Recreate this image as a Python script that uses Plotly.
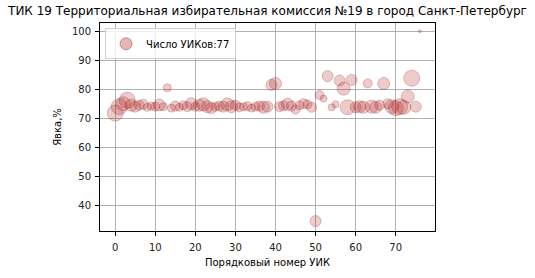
import plotly.graph_objects as go

title_text = "ТИК 19 Территориальная избирательная комиссия №19 в город Санкт-Петербург"
x_label = "Порядковый номер УИК"
y_label = "Явка,%"
legend_label = "Число УИКов:77"

uik_index = list(range(77))
turnout = [
    71.8, 74.0, 75.0, 76.2, 74.5, 74.0, 74.5, 74.8, 73.8, 74.2,
    74.0, 74.6, 74.0, 80.5, 73.5, 74.2, 73.8, 74.5, 74.0, 75.0,
    74.0, 74.5, 74.8, 74.0, 73.5, 74.0, 74.2, 74.0, 74.8, 74.0,
    74.5, 73.8, 74.0, 74.2, 73.5, 74.0, 74.2, 73.8, 74.0, 81.5,
    82.0, 74.0, 74.3, 74.8, 74.2, 73.0, 74.5, 75.0, 74.8, 73.8,
    34.6, 78.0, 76.8, 84.5, 73.8, 74.8, 83.0, 80.2, 73.8, 83.2,
    73.8, 74.0, 73.8, 82.0, 74.0, 73.8, 74.5, 82.0, 75.0, 74.0,
    73.5, 74.0, 73.8, 77.5, 83.8, 74.0, 100.0,
]
# relative marker size (number of voters, scaled)
voters = [
    16, 16, 14, 16, 12, 11, 10, 10, 8, 8,
    9, 12, 8, 8, 8, 10, 8, 9, 10, 12,
    9, 12, 13, 12, 11, 9, 10, 11, 13, 12,
    10, 9, 8, 9, 8, 9, 10, 12, 11, 11,
    12, 10, 10, 12, 10, 9, 9, 10, 9, 10,
    11, 9, 7, 11, 7, 7, 11, 13, 15, 11,
    11, 12, 12, 9, 13, 12, 10, 12, 10, 14,
    15, 16, 14, 13, 16, 11, 3,
]

fill = "rgba(178,34,34,0.33)"
edge = "rgba(150,30,30,0.4)"

fig = go.Figure()
fig.add_trace(go.Scatter(
    x=uik_index, y=turnout, mode="markers", showlegend=False,
    marker=dict(size=voters, color=fill, line=dict(color=edge, width=1)),
))
fig.add_trace(go.Scatter(
    x=[None], y=[None], mode="markers", name=legend_label,
    marker=dict(size=12, color=fill, line=dict(color=edge, width=1)),
))

axis_common = dict(
    showgrid=True, gridcolor="#b0b0b0", gridwidth=0.8,
    showline=True, linecolor="black", linewidth=1, mirror=True,
    ticks="outside", ticklen=4, tickcolor="black",
    zeroline=False, tickfont=dict(size=10, color="#222"),
)
fig.update_layout(
    width=535, height=278,
    margin=dict(l=100, r=100, t=23, b=38),
    paper_bgcolor="white", plot_bgcolor="white",
    font=dict(family="DejaVu Sans", color="black"),
    title=dict(text=title_text, x=267.5 / 535, xanchor="center",
               y=1 - 11 / 278, yanchor="middle", yref="container",
               font=dict(size=12)),
    xaxis=dict(range=[-3.8, 79.8], tickvals=[0, 10, 20, 30, 40, 50, 60, 70],
               ticklabelstandoff=3,
               title=dict(text=x_label, font=dict(size=10), standoff=6), **axis_common),
    yaxis=dict(range=[31.2, 102.8], tickvals=[40, 50, 60, 70, 80, 90, 100],
               ticklabelstandoff=2,
               title=dict(text=y_label, font=dict(size=10), standoff=8), **axis_common),
    legend=dict(x=0.015, y=0.975, xanchor="left", yanchor="top",
                bgcolor="rgba(255,255,255,0.8)", bordercolor="#d0d0d0", borderwidth=1,
                itemwidth=30, font=dict(size=10)),
)
fig.write_html("out.html")
